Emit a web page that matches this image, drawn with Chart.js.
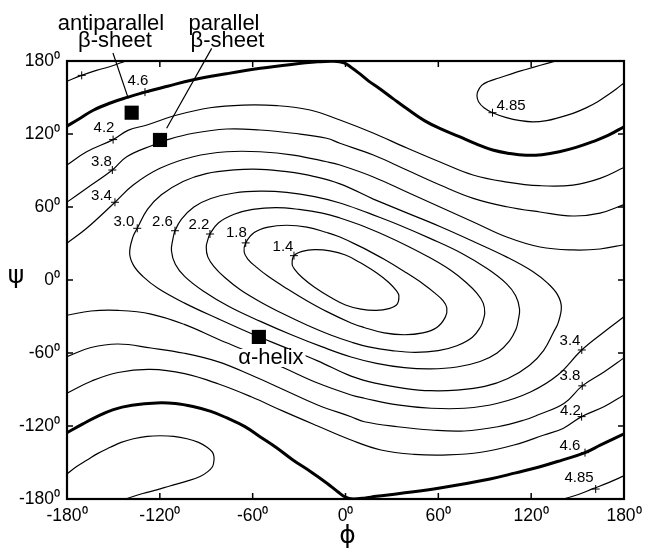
<!DOCTYPE html>
<html>
<head>
<meta charset="utf-8">
<script src="https://cdn.jsdelivr.net/npm/chart.js@4/dist/chart.umd.min.js"></script>
<style>
  body { margin: 0; background: #fff; }
</style>
</head>
<body>
<canvas id="rama" width="652" height="552"></canvas>
<script>
// axis ticks (degrees)
var phiTicks = [-180, -120, -60, 0, 60, 120, 180];
var psiTicks = [-180, -120, -60, 0, 60, 120, 180];

// contour lines, [phi, psi]
var c14 = [[10,14],[20,6],[28,-2],[33,-9],[34.5,-13],[33.3,-20],[28,-23.5],[20,-25],[10,-24],[0,-20.5],[-10,-14],[-20,-6],[-28,2],[-33,9],[-34.5,13],[-33.3,20],[-28,23.5],[-20,25],[-10,24],[0,20.5],[10,14]];
var c18 = [[12,26],[25,17],[38,7],[50,-3],[58,-11],[63,-17],[65.5,-23],[64.5,-30.5],[59,-39],[50,-43.5],[38,-45],[25,-43.5],[12,-39],[3.6,-35.3],[-12,-26],[-25,-17],[-38,-7],[-50,3],[-58,11],[-63,17],[-65.5,23],[-64.5,30.5],[-59,39],[-50,43.5],[-38,45],[-25,43.5],[-12,39],[-3.6,35.3],[12,26]];
var c22 = [[10,45],[25,37],[40,28],[55,18],[68,8],[78,-2],[85,-11],[89,-19],[90,-27],[89,-33],[87.6,-37.8],[82,-47],[72,-54],[60,-58],[45,-59.5],[30,-58],[15,-55],[3.6,-51],[-10,-45],[-25,-37],[-40,-28],[-55,-18],[-68,-8],[-78,2],[-85,11],[-89,19],[-90,27],[-89,33],[-87.6,37.8],[-82,47],[-72,54],[-60,58],[-45,59.5],[-30,58],[-15,55],[-3.6,51],[10,45]];
var c26 = [[15,55],[35,45],[55,34],[75,22],[92,9],[104,-3],[110,-13],[112.5,-24],[111.5,-34],[110.2,-40.5],[106,-50],[98,-60],[87,-67],[72,-71.5],[55,-73],[38,-72],[20,-68.5],[3.6,-63.3],[-15,-55],[-35,-45],[-55,-34],[-75,-22],[-92,-9],[-104,3],[-110,13],[-112.5,24],[-111.5,34],[-110.2,40.5],[-106,50],[-98,60],[-87,67],[-72,71.5],[-55,73],[-38,72],[-20,68.5],[-3.6,63.3],[15,55]];
var c30 = [[18,66.5],[40,55],[61,44],[83,31.5],[104,19],[121,7],[131,-3],[137,-12],[139.5,-22],[137.5,-35],[134.6,-42.5],[128,-58],[119,-70],[105,-81],[90,-87.5],[72,-90.5],[55,-91],[38,-89],[20,-85],[3.6,-79],[-18,-66.5],[-40,-55],[-61,-44],[-83,-31.5],[-104,-19],[-121,-7],[-131,3],[-137,12],[-139.5,22],[-137.5,35],[-134.6,42.5],[-128,58],[-119,70],[-105,81],[-90,87.5],[-72,90.5],[-55,91],[-38,89],[-20,85],[-3.6,79],[18,66.5]];
var c34a = [[-180,30.2],[-167.3,42.5],[-149,63.9],[-137.2,78.1],[-119.9,91.8],[-98.4,101.3],[-76.8,105.4],[-55.3,105.4],[-33.7,102.7],[-12.2,97.2],[-3.6,94.5],[18,84.7],[39.6,72.3],[61.1,60],[82.6,47.7],[104.2,35.3],[125.7,27.1],[147,24.7],[164.5,25.5],[180,29]];
var c34b = [[-180,-29],[-164.5,-25.5],[-147,-25],[-125.7,-28],[-104.2,-36.5],[-82.6,-48.5],[-61.1,-60],[-39.6,-72.3],[-18,-84.7],[3.6,-94.5],[12.2,-97.2],[33.7,-102.7],[55.3,-105.4],[76.8,-105.4],[98.4,-101.3],[119.9,-91.8],[137.2,-78.1],[152.7,-57.5],[167.3,-42.5],[180,-30.2]];
var c38a = [[-180,64],[-167.3,75.4],[-150.7,90.4],[-141.4,101.3],[-124.2,111],[-115.6,115.1],[-98.4,120.6],[-76.8,124.1],[-55.3,123.3],[-33.7,120.6],[-12.2,116.5],[-3.6,112.4],[18,102.7],[39.6,90.4],[61.1,78.1],[82.6,67.1],[104.2,60.2],[125.7,55.9],[147,52.6],[164.5,55],[180,62]];
var c38b = [[-180,-63],[-164.5,-55.5],[-147,-52.6],[-125.7,-55.9],[-104.2,-60.2],[-82.6,-67.1],[-61.1,-78.1],[-39.6,-90.4],[-18,-102.7],[3.6,-112.4],[12.2,-116.5],[33.7,-120.6],[55.3,-123.3],[76.8,-124.1],[98.4,-120.6],[115.6,-115.1],[124.2,-111],[141.4,-101.3],[153,-87],[167.3,-75.4],[180,-64]];
var c42a = [[-180,94.5],[-167.3,105.4],[-150.2,115.4],[-140.6,123],[-128.3,127.4],[-108.9,135.6],[-87.6,141.6],[-66.2,143.8],[-44.3,143.3],[-22.9,139.7],[-3.6,131.5],[17.8,120.8],[39.7,108.5],[61.1,97],[82.4,86.3],[104.4,80.5],[125.7,77.5],[147,78],[164.5,83.5],[180,92.5]];
var c42b = [[-180,-93],[-164,-83],[-147,-76],[-126,-73.5],[-104,-77],[-82,-85.5],[-61,-96],[-40,-108],[-18,-120],[3.6,-131.5],[22.9,-139.7],[44.3,-143.3],[66.2,-143.8],[87.6,-141.6],[108.9,-135.6],[128.3,-127.4],[140.6,-122],[152.6,-112.3],[167.3,-104],[180,-94.5]];
var c46a = [[-180,126.5],[-172,132.5],[-163,139.5],[-152,145.5],[-140.5,150.3],[-129.6,154.4],[-115,159.3],[-99,164.4],[-77,169.5],[-55,174],[-35,177.2],[-18,179.3],[-8,179.8],[-1,178.5],[4,174.5],[8.7,170],[15,163.5],[21.7,157.6],[30.5,149.3],[40,140.5],[51,131],[62,124],[73.6,117.8],[84,112],[95.1,106.8],[106,104],[116.7,102.5],[127,103],[138.2,105.4],[149,109],[159.8,113.7],[170,119],[180,126]];
var c46b = [[-180,-125.5],[-170,-118.5],[-161,-112.5],[-150,-106.5],[-138,-103],[-122,-101],[-110,-101.5],[-98.6,-104],[-87,-108],[-76.6,-113.4],[-65,-120.5],[-55.3,-128.8],[-45,-137.5],[-34,-147.9],[-22,-158],[-12,-167],[-5,-174],[0,-178.5],[5,-180],[12,-179.3],[20,-177.8],[35,-175.5],[61,-171],[93.4,-163.5],[110,-158.5],[125.7,-153.5],[140,-148],[154.8,-141.9],[165,-135.5],[180,-126.5]];
var c485a = [[-180,163.5],[-170.5,168.2],[-161,172.3],[-152,175.5],[-142,180]];
var c485b = [[136,180],[126,176.5],[116.5,173],[109.6,170.5],[99.2,166],[92,163],[88,160],[85.5,155],[85,151],[86,146.5],[89.5,141.5],[95,137.5],[104,133.5],[113,131],[121,130],[130,131],[138,133.5],[147,137],[155.5,141.5],[163,146.5],[170,152.5],[175,157],[180,162]];
var c485c = [[-180,-159.5],[-174,-153.5],[-167,-148],[-160,-142.5],[-152,-137.5],[-145,-133.5],[-137,-130.5],[-128,-128.5],[-119.8,-128],[-111,-128.5],[-102.4,-130.5],[-95,-133.5],[-89.5,-137.5],[-86,-141.5],[-85,-145.5],[-85.2,-150],[-86,-153.5],[-89,-157.5],[-94,-161.5],[-103,-165.5],[-113.5,-169.3],[-122,-172.5],[-131,-175.5],[-142.5,-180]];
var c485d = [[141,-180],[150,-176.5],[160,-171.5],[170,-166.5],[180,-161]];

// contour level labels and the "+" marks on the lines
var labelText = ['4.6', '4.2', '3.8', '3.4', '3.0', '2.6', '2.2', '1.8', '1.4', '3.4', '3.8', '4.2', '4.6', '4.85', '4.85'];
var labelAt = [[-134.1,164],[-156.1,124.9],[-157.7,97],[-157.7,69.4],[-143.2,47.7],[-118.3,47.7],[-94.7,45.2],[-70.5,39],[-40.4,27.1],[145.1,-49.7],[145.1,-78.9],[145.4,-107.3],[145.1,-136],[150.9,-162.3],[107,143]];
var markAt = [[-129.6,154.4],[-150.2,115.4],[-150.7,90.4],[-149,63.9],[-134.6,42.5],[-110.2,40.5],[-87.6,37.8],[-64.5,30.5],[-33.3,20],[152.7,-57.5],[153,-87],[152.6,-112.3],[154.8,-141.9],[161.7,-171.8],[95,137.5],[-170.5,168.2]];

// secondary structure positions
var confPhi = [-138.2, -119.9, -56];
var confPsi = [137.5, 115.1, -46.8];

var thinLines = [c14, c18, c22, c26, c30, c34a, c34b, c38a, c38b, c42a, c42b, c485a, c485b, c485c, c485d];
var thickLines = [c46a, c46b];

function toXY(pts) {
    return pts.map(function (p) { return {x: p[0], y: p[1]}; });
}

function lineSet(pts, w) {
    return {
        data: toXY(pts),
        showLine: true,
        borderColor: '#000',
        borderWidth: w,
        pointRadius: 0,
        tension: 0.4,
        fill: false
    };
}

var datasets = [];
thinLines.forEach(function (p) { datasets.push(lineSet(p, 1.2)); });
thickLines.forEach(function (p) { datasets.push(lineSet(p, 3)); });
datasets.push({
    data: toXY(markAt),
    pointStyle: 'cross',
    pointRadius: 4,
    borderColor: '#000',
    borderWidth: 1,
    showLine: false
});
datasets.push({
    data: confPhi.map(function (v, i) { return {x: v, y: confPsi[i]}; }),
    pointStyle: 'rect',
    pointRadius: 10,
    backgroundColor: '#000',
    borderColor: '#000',
    borderWidth: 0,
    showLine: false
});

var sans = '"Liberation Sans", Arial, Helvetica, sans-serif';

var decor = {
    id: 'decor',
    afterDatasetsDraw: function (chart) {
        var ctx = chart.ctx, a = chart.chartArea;
        var sx = chart.scales.x, sy = chart.scales.y;
        var px = function (v) { return sx.getPixelForValue(v); };
        var py = function (v) { return sy.getPixelForValue(v); };
        ctx.save();
        ctx.strokeStyle = '#000';
        ctx.fillStyle = '#000';

        // inward tick marks on all four sides
        ctx.lineWidth = 1.5;
        ctx.beginPath();
        phiTicks.slice(1, -1).forEach(function (v) {
            var X = px(v);
            ctx.moveTo(X, a.bottom); ctx.lineTo(X, a.bottom - 6);
            ctx.moveTo(X, a.top); ctx.lineTo(X, a.top + 6);
        });
        psiTicks.slice(1, -1).forEach(function (v) {
            var Y = py(v);
            ctx.moveTo(a.left, Y); ctx.lineTo(a.left + 6, Y);
            ctx.moveTo(a.right, Y); ctx.lineTo(a.right - 6, Y);
        });
        ctx.stroke();

        // frame
        ctx.lineWidth = 2.2;
        ctx.strokeRect(a.left, a.top, a.right - a.left, a.bottom - a.top);

        // level labels
        ctx.font = '15px ' + sans;
        ctx.textAlign = 'center';
        ctx.textBaseline = 'middle';
        labelText.forEach(function (t, i) {
            ctx.fillText(t, px(labelAt[i][0]), py(labelAt[i][1]));
        });

        // leader lines to the beta squares
        ctx.lineWidth = 1.2;
        ctx.beginPath();
        ctx.moveTo(px(-150.3), py(186.6)); ctx.lineTo(px(-140.4), py(149.3));
        ctx.moveTo(px(-86.5), py(190.4)); ctx.lineTo(px(-115.6), py(124.7));
        ctx.stroke();

        ctx.font = '22px ' + sans;
        ctx.fillText('antiparallel', px(-151.6), py(210.4));
        ctx.fillText('\u03b2-sheet', px(-149), py(196.4));
        ctx.fillText('parallel', px(-78.5), py(210.4));
        ctx.fillText('\u03b2-sheet', px(-76.3), py(196.4));

        // alpha helix label on a white patch
        var hx = px(-48.2), hy = py(-64.1);
        var w = ctx.measureText('\u03b1-helix').width;
        ctx.fillStyle = '#fff';
        ctx.fillRect(hx - w / 2 - 2, hy - 9, w + 4, 18);
        ctx.fillStyle = '#000';
        ctx.fillText('\u03b1-helix', hx, hy);

        // axis titles
        ctx.font = '25px "DejaVu Sans", sans-serif';
        ctx.fillText('\u03d5', px(0) + 2, a.bottom + 37);
        ctx.fillText('\u03c8', a.left - 51, py(0) - 4);
        ctx.restore();
    }
};

var ctx = document.getElementById('rama').getContext('2d');
var rama = new Chart(ctx, {
    type: 'scatter',
    data: {datasets: datasets},
    options: {
        responsive: false,
        animation: false,
        events: [],
        layout: {padding: {top: 61, right: 28, left: 0, bottom: 0}},
        plugins: {
            legend: {display: false},
            tooltip: {enabled: false}
        },
        scales: {
            x: {
                type: 'linear',
                min: -180,
                max: 180,
                afterBuildTicks: function (s) { s.ticks = phiTicks.map(function (v) { return {value: v}; }); },
                afterFit: function (s) { s.height = 53; },
                grid: {display: false, drawTicks: false},
                border: {display: false},
                ticks: {
                    autoSkip: false,
                    maxRotation: 0,
                    padding: 7,
                    color: '#000',
                    font: {family: sans, size: 17.5},
                    callback: function (v) { return v + '\u2070'; }
                }
            },
            y: {
                type: 'linear',
                min: -180,
                max: 180,
                afterBuildTicks: function (s) { s.ticks = psiTicks.map(function (v) { return {value: v}; }); },
                afterFit: function (s) { s.width = 67; },
                grid: {display: false, drawTicks: false},
                border: {display: false},
                ticks: {
                    autoSkip: false,
                    padding: 7,
                    color: '#000',
                    font: {family: sans, size: 17.5},
                    callback: function (v) { return v + '\u2070'; }
                }
            }
        }
    },
    plugins: [decor]
});
</script>
</body>
</html>
